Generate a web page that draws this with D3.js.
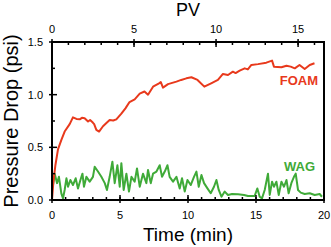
<!DOCTYPE html>
<html>
<head>
<meta charset="utf-8">
<script src="https://cdn.jsdelivr.net/npm/d3@7"></script>
<style>
  body { margin: 0; background: #fff; }
  text { font-family: "Liberation Sans", Arial, sans-serif; }
</style>
</head>
<body>
<div class="canva"></div>
<script>
// FOAM pressure drop (psi) vs time (min)
const foamTime = [0, 0.1, 0.25, 0.44, 0.69, 0.93, 1.3, 1.54, 1.8, 2.04, 2.2, 2.4, 2.65, 2.8, 3.0, 3.1, 3.26, 3.46,
  3.75, 4.0, 4.24, 4.5, 4.73, 5.1, 5.4, 5.7, 6.08, 6.45, 6.8, 7.06, 7.43, 7.87, 8.0, 8.16, 8.53, 9.15, 9.5, 9.88,
  10.25, 10.7, 11.2, 11.7, 12.2, 12.57, 12.94, 13.3, 13.5, 13.8, 14.17, 14.4, 14.66, 15.15, 15.76, 16.18, 16.32,
  16.87, 17.24, 17.55, 17.85, 18.2, 18.58, 18.95, 19.3];
const foamP = [0, 0.17, 0.33, 0.48, 0.57, 0.65, 0.72, 0.785, 0.77, 0.766, 0.78, 0.776, 0.745, 0.76, 0.735, 0.72, 0.665, 0.65,
  0.70, 0.73, 0.76, 0.755, 0.766, 0.82, 0.87, 0.93, 0.956, 1.01, 1.03, 1.00, 1.076, 1.108, 1.12, 1.067, 1.10, 1.124, 1.14, 1.155,
  1.165, 1.14, 1.076, 1.108, 1.14, 1.197, 1.187, 1.218, 1.205, 1.228, 1.25, 1.24, 1.282, 1.29, 1.304, 1.323, 1.266,
  1.26, 1.275, 1.266, 1.25, 1.282, 1.244, 1.282, 1.298];

// WAG pressure drop (psi) vs time (min)
const wagTime = [0.07, 0.2, 0.37, 0.51, 0.69, 0.81, 0.93, 1.06, 1.18, 1.35, 1.54, 1.74, 1.91, 2.09, 2.24, 2.35, 2.53, 2.77,
  3.01, 3.14, 3.38, 3.63, 3.88, 4.04, 4.24, 4.44, 4.61, 4.81, 4.98, 5.1, 5.27, 5.47, 5.66, 5.84, 6.08, 6.25, 6.45, 6.69,
  6.94, 7.06, 7.26, 7.43, 7.68, 7.92, 8.09, 8.29, 8.49, 8.65, 8.9, 9.15, 9.39, 9.56, 9.76, 9.96, 10.2, 10.44, 10.62,
  10.79, 10.99, 11.18, 11.43, 11.67, 11.91, 12.09, 12.26, 12.46, 12.7, 12.94, 13.24, 13.68, 14.12, 14.41, 14.9, 15.1,
  15.27, 15.44, 15.64, 15.88, 16.01, 16.18, 16.32, 16.5, 16.67, 16.87, 17.06, 17.24, 17.4, 17.6, 17.79, 17.92, 18.09,
  18.29, 18.58, 18.95, 19.32, 19.68, 19.85];
const wagP = [0.14, 0.25, 0.16, 0.22, 0.06, 0.015, 0.095, 0.206, 0.126, 0.19, 0.142, 0.206, 0.11, 0.19, 0.25, 0.126, 0.22, 0.174,
  0.22, 0.316, 0.27, 0.22, 0.16, 0.095, 0.22, 0.364, 0.16, 0.33, 0.126, 0.35, 0.095, 0.25, 0.08, 0.22, 0.174, 0.30, 0.126, 0.25,
  0.16, 0.285, 0.16, 0.25, 0.27, 0.33, 0.22, 0.27, 0.33, 0.22, 0.174, 0.22, 0.11, 0.206, 0.08, 0.19, 0.142, 0.22, 0.27,
  0.126, 0.237, 0.16, 0.11, 0.064, 0.126, 0.19, 0.095, 0.031, 0.08, 0.048, 0.057, 0.054, 0.048, 0.038, 0.038, 0.11,
  0.031, 0.016, 0.095, 0.25, 0.048, 0.174, 0.126, 0.174, 0.048, 0.174, 0.126, 0.19, 0.064, 0.16, 0.22, 0.25, 0.095,
  0.07, 0.057, 0.064, 0.048, 0.057, 0.031];

const timeTicks = [0, 5, 10, 15, 20];
const pvTicks = [0, 5, 10, 15];
const pressureTicks = [0, 0.5, 1.0, 1.5];
const pvMax = 16.58; // PV at 20 min

const width = 331, height = 247;
const margin = {top: 42, right: 7, bottom: 47, left: 52};
const graphWidth = width - margin.left - margin.right;
const graphHeight = height - margin.top - margin.bottom;

const svg = d3.select(".canva").append("svg")
  .attr("width", width)
  .attr("height", height);

const g = svg.append("g")
  .attr("transform", `translate(${margin.left}, ${margin.top})`);

const x = d3.scaleLinear().domain([0, 20]).range([0, graphWidth]);
const xPV = d3.scaleLinear().domain([0, pvMax]).range([0, graphWidth]);
const y = d3.scaleLinear().domain([0, 1.5]).range([graphHeight, 0]);

const red = "#e8391c", green = "#3faa38";

// lines
const line = d3.line().x(d => x(d[0])).y(d => y(d[1]));
g.append("path")
  .datum(wagTime.map((t, i) => [t, wagP[i]]))
  .attr("fill", "none").attr("stroke", green).attr("stroke-width", 2)
  .attr("stroke-linejoin", "round")
  .attr("d", line);
g.append("path")
  .datum(foamTime.map((t, i) => [t, foamP[i]]))
  .attr("fill", "none").attr("stroke", red).attr("stroke-width", 2)
  .attr("stroke-linejoin", "round")
  .attr("d", line);

// frame
g.append("rect")
  .attr("width", graphWidth).attr("height", graphHeight)
  .attr("fill", "none").attr("stroke", "#000").attr("stroke-width", 2);

// minor ticks (inside)
const ticks = g.append("g").attr("stroke", "#000").attr("stroke-width", 1.5);
d3.range(1, 20).forEach(t => {
  ticks.append("line").attr("x1", x(t)).attr("x2", x(t))
    .attr("y1", graphHeight).attr("y2", graphHeight - 3);
});
d3.range(1, 17).forEach(p => {
  ticks.append("line").attr("x1", xPV(p)).attr("x2", xPV(p))
    .attr("y1", 0).attr("y2", 3);
});
[0.25, 0.75, 1.25].forEach(v => {
  ticks.append("line").attr("x1", 0).attr("x2", 3)
    .attr("y1", y(v)).attr("y2", y(v));
});

// major ticks (crossing)
timeTicks.forEach(t => {
  ticks.append("line").attr("x1", x(t)).attr("x2", x(t))
    .attr("y1", graphHeight + 3).attr("y2", graphHeight - 5);
});
pvTicks.forEach(p => {
  ticks.append("line").attr("x1", xPV(p)).attr("x2", xPV(p))
    .attr("y1", -3).attr("y2", 5);
});
pressureTicks.forEach(v => {
  ticks.append("line").attr("x1", -3).attr("x2", 5)
    .attr("y1", y(v)).attr("y2", y(v));
});

// tick labels
const lab = g.append("g").style("font-size", "11px").attr("fill", "#000");
timeTicks.forEach(t => {
  lab.append("text").attr("x", x(t)).attr("y", graphHeight + 19)
    .attr("text-anchor", "middle").text(t);
});
pvTicks.forEach(p => {
  lab.append("text").attr("x", xPV(p)).attr("y", -9)
    .attr("text-anchor", "middle").text(p);
});
pressureTicks.forEach(v => {
  lab.append("text").attr("x", -9).attr("y", y(v) + 4)
    .attr("text-anchor", "end").text(d3.format(".1f")(v));
});

// axis titles
svg.append("text")
  .attr("x", margin.left + graphWidth / 2).attr("y", 241)
  .attr("text-anchor", "middle").style("font-size", "19px")
  .text("Time (min)");
svg.append("text")
  .attr("x", margin.left + graphWidth / 2).attr("y", 16)
  .attr("text-anchor", "middle").style("font-size", "18px")
  .text("PV");
svg.append("text")
  .attr("transform", `translate(18, ${margin.top + graphHeight / 2}) rotate(-90)`)
  .attr("text-anchor", "middle").style("font-size", "20px")
  .text("Pressure Drop (psi)");

// series labels
g.append("text")
  .attr("x", 318 - margin.left).attr("y", 84.5 - margin.top)
  .attr("text-anchor", "end").style("font-size", "13px").style("font-weight", "bold")
  .attr("fill", red).text("FOAM");
g.append("text")
  .attr("x", 315 - margin.left).attr("y", 171 - margin.top)
  .attr("text-anchor", "end").style("font-size", "13px").style("font-weight", "bold")
  .attr("fill", green).text("WAG");
</script>
</body>
</html>
